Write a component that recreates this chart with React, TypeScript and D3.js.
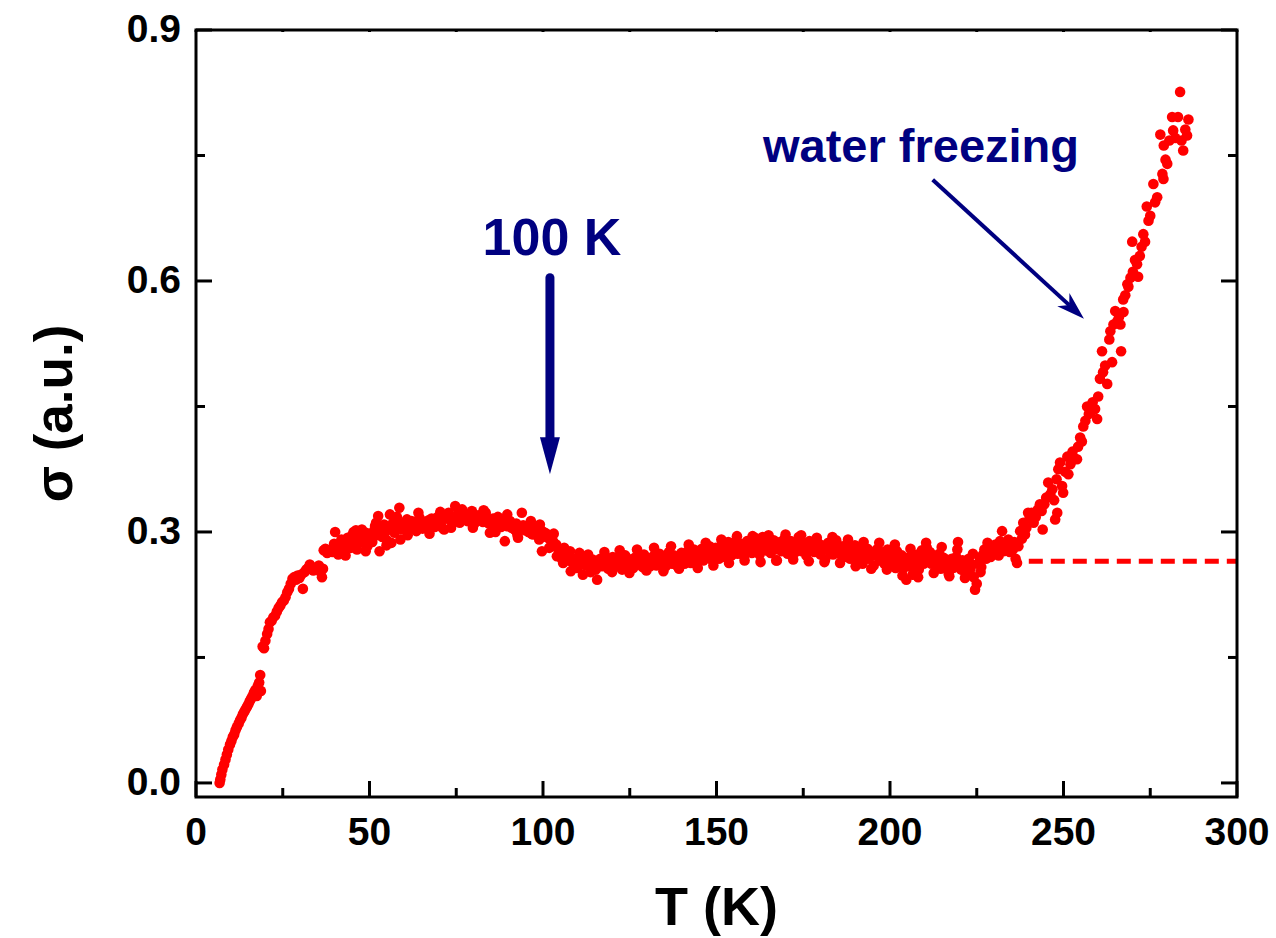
import React from "react";
import * as d3 from "d3";

// ---- data (T in K, sigma in a.u.) ----
const riseLow: [number, number][] = [
  [6.8,0.000],[7.0,0.004],[7.3,0.010],[7.6,0.016],[8.1,0.022],[8.5,0.028],[8.9,0.034],[9.3,0.040],[9.8,0.046],[10.2,0.050],
  [10.6,0.055],[11.0,0.058],[11.4,0.063],[11.8,0.067],[12.3,0.071],[12.7,0.075],[13.1,0.078],[13.5,0.082],[13.9,0.085],[14.3,0.088],
  [14.7,0.091],[15.1,0.094],[15.5,0.098],[15.9,0.101],[16.3,0.104],[16.7,0.108],[17.1,0.111],[17.5,0.104],[17.8,0.116],[18.2,0.120],
  [18.5,0.129],[18.7,0.110],[19.2,0.163],[19.6,0.161],[20.0,0.170],[20.5,0.178],[20.9,0.184],[21.3,0.192],[21.8,0.194],[22.3,0.198],
  [22.8,0.200],[23.3,0.205],[23.8,0.209],[24.3,0.212],[24.8,0.216],[25.3,0.218],[25.8,0.222],[26.3,0.228],[26.8,0.232],[27.3,0.238],
  [27.8,0.244],[28.3,0.246],[28.8,0.243],[29.3,0.248],[29.8,0.245],[30.3,0.249],[30.8,0.232],[31.3,0.252],[31.8,0.255],[32.3,0.257],
  [32.8,0.261],[33.3,0.258],[33.8,0.254],[34.3,0.257],[34.9,0.256],[35.4,0.260],[35.9,0.252],[36.3,0.246],[36.6,0.256],[36.8,0.278],
  [37.3,0.280],[37.8,0.275],[38.3,0.277],[38.8,0.279],[39.3,0.276],[39.8,0.286],[40.1,0.300],[40.6,0.282],[41.0,0.273],[41.5,0.285],
];

const plateau: [number, number][] = [
  [41.9,0.291],[42.4,0.289],[42.9,0.280],[43.3,0.284],[43.7,0.293],[44.2,0.286],[44.6,0.281],[45.0,0.296],[45.4,0.300],[45.9,0.288],
  [46.4,0.279],[46.8,0.292],[47.2,0.296],[47.8,0.303],[48.2,0.287],[48.6,0.294],[49.0,0.299],[49.4,0.283],[49.9,0.291],[50.3,0.297],
  [50.8,0.288],[51.2,0.301],[51.6,0.307],[52.0,0.296],[52.5,0.319],[52.9,0.277],[53.3,0.302],[53.7,0.294],[54.2,0.309],[54.6,0.300],
  [55.0,0.290],[55.5,0.305],[55.9,0.321],[56.3,0.287],[56.8,0.311],[57.2,0.299],[57.6,0.306],[58.1,0.312],[58.6,0.329],[58.9,0.291],
  [59.4,0.303],[59.8,0.310],[60.3,0.307],[60.8,0.315],[61.2,0.302],[61.7,0.309],[62.1,0.313],[62.6,0.305],[63.0,0.311],[63.5,0.301],
  [63.9,0.308],[64.4,0.317],[64.8,0.310],[65.3,0.304],[65.7,0.312],[66.1,0.307],[66.6,0.305],[67.0,0.314],[67.5,0.309],[67.9,0.316],
  [68.4,0.311],[68.8,0.306],[69.3,0.314],[69.7,0.318],[70.2,0.310],[70.6,0.313],[71.0,0.305],[71.5,0.303],[71.9,0.316],[72.4,0.319],
  [72.8,0.323],[73.3,0.314],[73.7,0.318],[74.2,0.312],[74.7,0.331],[75.1,0.320],[75.5,0.315],[76.0,0.311],[76.4,0.318],[76.9,0.322],
  [77.3,0.316],[77.8,0.319],[78.2,0.313],[78.7,0.317],[79.1,0.321],[79.5,0.325],[80.0,0.318],[80.4,0.311],[80.9,0.316],[81.3,0.320],
  [81.8,0.314],[82.2,0.318],[82.7,0.312],[83.1,0.316],[83.5,0.323],[84.0,0.315],[84.4,0.310],[84.7,0.299],[85.2,0.312],[85.6,0.316],
  [86.1,0.309],[86.6,0.314],[87.0,0.318],[87.5,0.311],[87.9,0.306],[88.4,0.313],[88.8,0.309],[89.0,0.289],[89.5,0.307],[89.9,0.312],
  [90.5,0.313],[90.9,0.305],[91.3,0.309],[91.8,0.303],[92.3,0.310],[92.8,0.293],[93.2,0.306],[93.9,0.323],[94.3,0.308],[94.8,0.302],
  [95.4,0.307],[95.8,0.300],[96.2,0.304],[96.7,0.298],[97.1,0.297],[97.6,0.305],[98.0,0.301],[98.5,0.296],[99.1,0.309],[99.4,0.302],
  [99.7,0.277],[100.1,0.300],[100.6,0.299],[101.0,0.294],[101.5,0.297],[102.0,0.291],[102.5,0.294],[102.9,0.289],[103.4,0.283],[103.8,0.285],
];

const plateauOutliers: [number, number][] = [
  [43.1,0.272],[46.1,0.302],[48.9,0.277],[51.9,0.311],[54.9,0.284],[57.9,0.318],[61.0,0.296],[64.1,0.323],[67.3,0.298],[70.4,0.324],
  [73.5,0.305],[76.7,0.327],[79.8,0.305],[82.9,0.326],[86.3,0.300],[89.7,0.321],[92.6,0.297],[96.5,0.313],[98.9,0.291],[101.8,0.281],
  [103.1,0.298],
];

const flat: [number, number][] = [
  [104.0,0.271],[104.5,0.279],[105.0,0.274],[105.4,0.268],[105.8,0.263],[106.3,0.272],[106.8,0.266],[107.3,0.270],[107.8,0.277],[108.2,0.265],
  [108.7,0.262],[109.2,0.268],[109.8,0.257],[110.2,0.264],[110.7,0.270],[111.1,0.261],[111.5,0.249],[112.0,0.266],[112.5,0.260],[113.0,0.273],
  [113.4,0.265],[113.9,0.258],[114.3,0.267],[114.8,0.262],[115.2,0.255],[115.6,0.243],[116.1,0.262],[116.5,0.268],[117.0,0.259],[117.4,0.264],
  [117.9,0.270],[118.3,0.261],[118.8,0.256],[119.2,0.266],[119.7,0.263],[120.1,0.270],[120.6,0.258],[121.0,0.265],[121.5,0.261],[121.9,0.268],
  [122.4,0.262],[122.8,0.255],[123.3,0.266],[123.7,0.272],[124.2,0.263],[124.6,0.259],[125.1,0.267],[125.5,0.262],[126.0,0.257],[126.4,0.269],
  [126.9,0.264],[127.3,0.270],[127.8,0.261],[128.2,0.266],[128.7,0.258],[129.1,0.273],[129.6,0.265],[130.0,0.262],[130.5,0.268],[130.9,0.259],
  [131.4,0.264],[131.8,0.271],[132.3,0.266],[132.7,0.260],[133.2,0.268],[133.6,0.274],[134.1,0.263],[134.5,0.269],[135.0,0.265],[135.4,0.259],
  [135.9,0.270],[136.3,0.276],[136.8,0.267],[137.2,0.262],[137.7,0.272],[138.1,0.268],[138.6,0.260],[139.0,0.271],[139.5,0.266],[139.9,0.275],
  [140.4,0.269],[140.8,0.262],[141.3,0.270],[141.7,0.277],[142.2,0.267],[142.6,0.263],[143.1,0.272],[143.5,0.279],[144.0,0.268],[144.4,0.264],
  [144.9,0.274],[145.3,0.270],[145.8,0.280],[146.2,0.266],[146.7,0.273],[147.1,0.277],[147.6,0.269],[148.0,0.283],[148.5,0.272],[148.9,0.266],
  [149.4,0.276],[149.8,0.281],[150.3,0.273],[150.7,0.268],[151.2,0.278],[151.6,0.285],[152.1,0.275],[152.5,0.270],[153.0,0.280],[153.4,0.288],
  [153.9,0.276],[154.3,0.272],[154.8,0.283],[155.2,0.278],[155.7,0.290],[156.1,0.274],[156.6,0.280],[157.0,0.286],[157.5,0.276],[157.9,0.271],
  [158.4,0.282],[158.8,0.289],[159.3,0.278],[159.7,0.284],[160.2,0.275],[160.6,0.281],[161.1,0.293],[161.5,0.279],[162.0,0.285],[162.4,0.273],
  [162.9,0.281],[163.3,0.294],[163.8,0.284],[164.2,0.278],[164.7,0.287],[165.1,0.280],[165.6,0.275],[166.0,0.284],[166.5,0.290],[166.9,0.279],
  [167.4,0.266],[167.8,0.283],[168.3,0.288],[168.7,0.277],[169.2,0.282],[169.6,0.292],[170.1,0.280],[170.5,0.274],[171.0,0.284],[171.4,0.289],
  [171.9,0.279],[172.3,0.285],[172.8,0.276],[173.2,0.282],[173.7,0.294],[174.1,0.283],[174.6,0.277],[175.0,0.287],[175.5,0.281],[175.9,0.272],
  [176.4,0.283],[176.8,0.289],[177.3,0.278],[177.7,0.284],[178.2,0.276],[178.6,0.282],[179.1,0.288],[179.5,0.279],[180.0,0.273],[180.4,0.284],
  [180.9,0.280],[181.3,0.267],[181.8,0.282],[182.2,0.287],[182.7,0.276],[183.1,0.281],[183.6,0.273],[184.0,0.285],[184.5,0.290],[184.9,0.278],
  [185.4,0.274],[185.8,0.283],[186.3,0.279],[186.7,0.270],[187.2,0.281],[187.6,0.286],[188.1,0.275],[188.5,0.268],[189.0,0.279],[189.4,0.275],
  [189.9,0.284],[190.3,0.265],[190.8,0.276],[191.2,0.281],[191.7,0.271],[192.1,0.262],[192.6,0.277],[193.0,0.274],[193.5,0.280],[193.9,0.268],
  [194.4,0.276],[194.8,0.272],[195.3,0.260],[195.7,0.275],[196.2,0.279],[196.6,0.270],[197.1,0.266],[197.5,0.276],[198.0,0.272],[198.4,0.262],
  [198.9,0.275],[199.3,0.279],[199.8,0.270],[200.2,0.276],[200.7,0.264],[201.1,0.272],[201.6,0.257],[202.0,0.277],[202.5,0.268],[202.9,0.262],
  [203.4,0.272],[203.8,0.256],[204.3,0.266],[204.7,0.243],[205.2,0.262],[205.6,0.270],[206.1,0.258],[206.5,0.249],[207.0,0.265],[207.4,0.261],
  [207.9,0.273],[208.3,0.255],[208.8,0.266],[209.2,0.278],[209.7,0.262],[210.1,0.268],[210.6,0.281],[211.0,0.270],[211.5,0.276],[211.9,0.262],
  [212.4,0.272],[212.8,0.265],[213.3,0.259],[213.7,0.268],[214.2,0.274],[214.6,0.256],[215.1,0.263],[215.5,0.269],[216.0,0.258],[216.4,0.264],
  [216.9,0.250],[217.3,0.262],[217.8,0.268],[218.2,0.257],[218.7,0.264],[219.1,0.270],[219.6,0.288],[220.0,0.262],[220.5,0.255],[220.9,0.266],
  [221.4,0.259],[221.8,0.250],[222.3,0.262],[222.7,0.268],[223.2,0.256],[223.6,0.261],[224.1,0.246],[224.5,0.231],[225.0,0.238],[225.4,0.262],
  [225.9,0.268],[226.3,0.258],[226.8,0.273],[227.2,0.279],[227.7,0.268],[228.1,0.287],[228.6,0.276],[229.0,0.270],[229.5,0.282],[229.9,0.274],
  [230.4,0.285],[230.8,0.279],[231.3,0.272],[231.7,0.289],[232.2,0.283],[232.3,0.301],[232.7,0.277],[233.2,0.286],[233.6,0.280],[234.1,0.291],
  [234.5,0.276],[235.0,0.284],[235.4,0.279],[235.8,0.288],[236.2,0.268],[236.6,0.263],[237.0,0.283],[237.5,0.301],[238.0,0.292],[238.4,0.311],
  [238.9,0.297],[239.3,0.305],[239.8,0.323],
];

const flatOutliers: [number, number][] = [
  [106.1,0.281],[108.0,0.253],[110.5,0.275],[113.7,0.252],[117.7,0.276],[119.9,0.252],[122.1,0.278],[124.9,0.251],[127.1,0.279],[129.8,0.254],
  [132.0,0.281],[134.7,0.253],[136.9,0.283],[139.2,0.256],[142.0,0.285],[144.6,0.257],[146.9,0.287],[149.1,0.260],[151.4,0.291],[153.6,0.263],
  [155.9,0.295],[158.1,0.266],[160.4,0.295],[162.7,0.264],[165.0,0.296],[167.2,0.266],[169.9,0.297],[172.1,0.267],[174.4,0.296],[176.6,0.265],
  [178.9,0.293],[181.1,0.264],[183.4,0.294],[185.6,0.263],[187.9,0.291],[190.1,0.259],[192.4,0.288],[194.6,0.256],[196.9,0.287],[199.1,0.255],
  [201.4,0.285],[203.6,0.248],[205.9,0.280],[208.1,0.246],[210.4,0.287],[212.6,0.251],[214.9,0.282],[217.1,0.247],[219.4,0.279],[221.6,0.245],
  [223.9,0.274],[226.1,0.252],
];

const freezingRise: [number, number][] = [
  [240.2,0.316],[240.8,0.323],[241.4,0.311],[242.0,0.318],[242.6,0.327],[243.2,0.333],[243.7,0.325],[244.0,0.303],[244.5,0.333],[245.0,0.341],
  [245.6,0.359],[246.2,0.345],[246.8,0.351],[247.3,0.338],[247.6,0.315],[248.0,0.363],[248.2,0.323],[248.5,0.375],[249.0,0.383],[249.6,0.355],
  [249.9,0.347],[250.5,0.372],[251.1,0.390],[251.4,0.369],[252.0,0.381],[252.6,0.396],[253.1,0.388],[253.9,0.387],[254.2,0.402],[254.8,0.413],
  [255.3,0.408],[255.7,0.426],[256.3,0.433],[256.8,0.450],[257.3,0.441],[257.9,0.443],[258.4,0.455],[259.1,0.447],[259.7,0.435],[260.0,0.462],
  [260.5,0.483],[261.1,0.516],[261.4,0.491],[262.0,0.499],[262.6,0.477],[263.2,0.530],[263.5,0.540],[264.0,0.503],[264.4,0.548],[264.9,0.564],
  [265.5,0.552],[266.0,0.557],[266.4,0.548],[266.6,0.516],[267.2,0.578],[267.3,0.563],[267.8,0.583],[268.4,0.596],[268.7,0.593],[269.3,0.604],
  [269.8,0.647],[270.0,0.611],[270.6,0.625],[271.2,0.620],[271.5,0.605],[272.0,0.630],[272.5,0.641],[273.0,0.656],[273.5,0.647],[274.0,0.689],
  [274.5,0.672],[275.0,0.678],[275.9,0.716],[276.4,0.694],[277.0,0.700],[277.9,0.775],[278.5,0.728],[278.8,0.722],[278.9,0.762],[279.4,0.745],
  [279.9,0.740],[280.5,0.768],[281.3,0.796],[281.6,0.780],[282.2,0.771],[283.0,0.796],[283.6,0.826],[284.0,0.768],[284.5,0.756],[285.1,0.781],
  [285.6,0.774],[286.0,0.793],
];

const baseline: [number, number][] = [[240, 0.265], [300, 0.265]];

const xMajorTicks = [0, 50, 100, 150, 200, 250, 300];
const xMinorTicks = [25, 75, 125, 175, 225, 275];
const yMajorTicks = [0.0, 0.3, 0.6, 0.9];
const yMinorTicks = [0.15, 0.45, 0.75];

const xTitle = "T (K)";
const yTitle = "σ (a.u.)";
const label100 = "100 K";
const labelWater = "water freezing";

// annotation anchors in data units
const arrow100 = { x: 102, y0: 0.604, y1: 0.369 };
const arrowWater = { x0: 212.3, y0: 0.721, x1: 255.9, y1: 0.555 };

const W = 1276, H = 938;
const L = 196, R = 1237, T0 = 30, B = 797;
const FONT = "'Liberation Sans', Arial, Helvetica, sans-serif";
const RED = "#ff0000";
const NAVY = "#000080";

export default function App() {
  const x = d3.scaleLinear().domain([0, 300]).range([L, R]);
  const y = d3.scaleLinear().domain([-0.0168, 0.9]).range([B, T0]);
  const all = [...riseLow, ...plateau, ...plateauOutliers, ...flat, ...flatOutliers, ...freezingRise];
  const line = d3.line<[number, number]>().x(d => x(d[0])).y(d => y(d[1]));

  const a1x = x(arrow100.x), a1top = y(arrow100.y0), a1tip = y(arrow100.y1);
  const head1 = 37, hw1 = 10;
  const sx = x(arrowWater.x0), sy = y(arrowWater.y0), ex = x(arrowWater.x1), ey = y(arrowWater.y1);
  const ang = Math.atan2(ey - sy, ex - sx);
  const hl = 28, hw = 9, back = 20;
  const ux = Math.cos(ang), uy = Math.sin(ang), px = -uy, py = ux;
  const hb = [ex - ux * hl, ey - uy * hl];
  const inner = [ex - ux * back, ey - uy * back];
  const head2 = [
    [ex, ey],
    [hb[0] + px * hw, hb[1] + py * hw],
    [inner[0], inner[1]],
    [hb[0] - px * hw, hb[1] - py * hw],
  ];

  return (
    <svg width={W} height={H} style={{ position: "absolute", left: 0, top: 0, background: "#fff" }} fontFamily={FONT}>
      <rect x={0} y={0} width={W} height={H} fill="#fff" />
      <path d={line(baseline) || ""} stroke={RED} strokeWidth={5} strokeDasharray="14 8" fill="none" />
      <g fill={RED}>
        {all.map((d, i) => (
          <circle key={i} cx={x(d[0])} cy={y(d[1])} r={5.3} />
        ))}
      </g>
      <g stroke="#000" strokeWidth={3}>
        {xMajorTicks.map(t => (
          <g key={"xM" + t}>
            <line x1={x(t)} x2={x(t)} y1={B} y2={B - 16} />
            <line x1={x(t)} x2={x(t)} y1={T0} y2={T0 + 2} />
          </g>
        ))}
        {xMinorTicks.map(t => (
          <g key={"xm" + t}>
            <line x1={x(t)} x2={x(t)} y1={B} y2={B - 9} />
            <line x1={x(t)} x2={x(t)} y1={T0} y2={T0 + 2} />
          </g>
        ))}
        {yMajorTicks.map(t => (
          <g key={"yM" + t}>
            <line x1={L} x2={L + 16} y1={y(t)} y2={y(t)} />
            <line x1={R} x2={R - 16} y1={y(t)} y2={y(t)} />
          </g>
        ))}
        {yMinorTicks.map(t => (
          <g key={"ym" + t}>
            <line x1={L} x2={L + 9} y1={y(t)} y2={y(t)} />
            <line x1={R} x2={R - 9} y1={y(t)} y2={y(t)} />
          </g>
        ))}
      </g>
      <rect x={L} y={T0} width={R - L} height={B - T0} fill="none" stroke="#000" strokeWidth={3} />
      <g fontSize={39} fontWeight="bold" fill="#000">
        {xMajorTicks.map(t => (
          <text key={"xl" + t} x={x(t)} y={845} textAnchor="middle">{t}</text>
        ))}
        {yMajorTicks.map(t => (
          <text key={"yl" + t} x={L - 15} y={y(t) + 12} textAnchor="end">{t.toFixed(1)}</text>
        ))}
      </g>
      <text x={(L + R) / 2} y={925} textAnchor="middle" fontSize={54} fontWeight="bold">{xTitle}</text>
      <text transform={`translate(72, ${(T0 + B) / 2}) rotate(-90)`} textAnchor="middle" fontSize={53} fontWeight="bold">{yTitle}</text>
      <text x={552} y={255} textAnchor="middle" fontSize={52} fontWeight="bold" fill={NAVY}>{label100}</text>
      <line x1={a1x} x2={a1x} y1={a1top} y2={a1tip - head1 + 2} stroke={NAVY} strokeWidth={9} strokeLinecap="round" />
      <polygon points={`${a1x - hw1},${a1tip - head1} ${a1x + hw1},${a1tip - head1} ${a1x},${a1tip}`} fill={NAVY} />
      <text x={763} y={162} fontSize={47} fontWeight="bold" fill={NAVY}>{labelWater}</text>
      <line x1={sx} y1={sy} x2={inner[0]} y2={inner[1]} stroke={NAVY} strokeWidth={4} />
      <polygon points={head2.map(p => p.join(",")).join(" ")} fill={NAVY} />
    </svg>
  );
}
